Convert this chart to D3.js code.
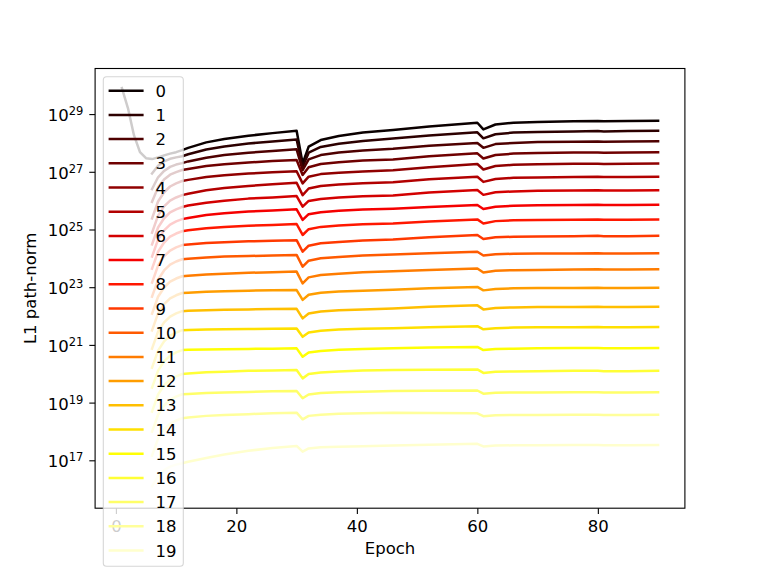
<!DOCTYPE html>
<html>
<head>
<meta charset="utf-8">
<script src="https://cdn.jsdelivr.net/npm/d3@7"></script>
<style>
  body { margin: 0; background: #fff; }
  svg { display: block; }
  text { font-family: "DejaVu Sans", sans-serif; fill: #000; }
</style>
</head>
<body>
<svg id="chart" width="761" height="571"></svg>
<script>
// ---------------- DATA ----------------
const epochs = [1,2,3,4,5,6,7,8,9,10,11,12,15,18,22,26,30,31,32,34,37,41,46,52,60,61,63,66,70,76,80,81,85,90];
const seriesNames = ["0","1","2","3","4","5","6","7","8","9","10","11","12","13","14","15","16","17","18","19"];
const xTicks = [0, 20, 40, 60, 80];
const yTickExponents = [17, 19, 21, 23, 25, 27, 29];
const xLabel = "Epoch";
const yLabel = "L1 path-norm";

// log10 of the L1 path-norm, one value per entry of `epochs` (null = not recorded)
const s0  = [29.90,29.21,28.27,27.68,27.47, 27.44,27.50,27.57,27.63,27.68,27.75, 27.83,28.02,28.14,28.25,28.34,28.42, 27.29,27.87,28.10,28.24,28.36,28.45,28.57,28.70, 28.47,28.64,28.70,28.73,28.75,28.76,28.75,28.76,28.77];
const s1  = [null,null,null,null,null, 26.94,27.21,27.36,27.45,27.50,27.54, 27.61,27.77,27.88,27.98,28.05,28.12, 27.17,27.66,27.86,27.97,28.07,28.15,28.26,28.37, 28.16,28.30,28.36,28.38,28.40,28.41,28.40,28.41,28.42];
const s2  = [null,null,null,null,null, 26.40,26.81,27.03,27.17,27.25,27.30, 27.36,27.49,27.58,27.66,27.72,27.78, 27.06,27.43,27.58,27.67,27.74,27.80,27.90,28.00, 27.83,27.96,28.00,28.03,28.04,28.05,28.04,28.05,28.06];
const s3  = [null,null,null,null,null, 25.96,26.46,26.73,26.90,26.99,27.06, 27.10,27.20,27.26,27.32,27.37,27.41, 26.89,27.16,27.27,27.33,27.39,27.43,27.54,27.64, 27.46,27.58,27.63,27.65,27.67,27.67,27.66,27.67,27.68];
const s4  = [null,null,null,null,null, 25.38,25.97,26.29,26.49,26.60,26.68, 26.72,26.82,26.88,26.94,26.98,27.02, 26.60,26.83,26.92,26.97,27.01,27.05,27.16,27.27, 27.08,27.20,27.24,27.26,27.28,27.28,27.27,27.28,27.29];
const s5  = [null,null,null,null,null, 24.89,25.48,25.80,26.00,26.11,26.19, 26.24,26.36,26.44,26.51,26.57,26.62, 26.19,26.42,26.51,26.56,26.60,26.64,26.74,26.83, 26.65,26.75,26.79,26.80,26.82,26.83,26.82,26.82,26.83];
const s6  = [null,null,null,null,null, 24.48,25.07,25.39,25.59,25.70,25.78, 25.83,25.93,26.00,26.07,26.11,26.16, 25.79,25.99,26.06,26.11,26.15,26.18,26.28,26.37, 26.20,26.29,26.32,26.34,26.35,26.36,26.35,26.35,26.36];
const s7  = [null,null,null,null,null, 24.06,24.65,24.97,25.17,25.28,25.36, 25.40,25.50,25.56,25.62,25.66,25.70, 25.33,25.53,25.60,25.65,25.69,25.72,25.78,25.85, 25.71,25.79,25.82,25.84,25.85,25.86,25.85,25.85,25.86];
const s8  = [null,null,null,null,null, 23.64,24.23,24.55,24.75,24.86,24.94, 24.97,25.04,25.09,25.13,25.16,25.19, 24.81,25.01,25.09,25.14,25.18,25.21,25.28,25.35, 25.21,25.29,25.32,25.33,25.34,25.35,25.34,25.34,25.35];
const s9  = [null,null,null,null,null, 23.16,23.75,24.07,24.27,24.38,24.46, 24.48,24.53,24.56,24.59,24.61,24.63, 24.23,24.44,24.52,24.57,24.62,24.65,24.73,24.81, 24.67,24.73,24.75,24.76,24.77,24.78,24.77,24.77,24.78];
const s10 = [null,null,null,null,null, 22.67,23.26,23.58,23.78,23.89,23.97, 23.99,24.03,24.06,24.08,24.10,24.12, 23.71,23.92,24.00,24.05,24.10,24.13,24.18,24.23, 24.10,24.14,24.16,24.17,24.17,24.18,24.17,24.17,24.18];
const s11 = [null,null,null,null,null, 22.08,22.67,22.99,23.19,23.30,23.38, 23.40,23.44,23.47,23.50,23.52,23.54, 23.13,23.34,23.42,23.47,23.52,23.55,23.60,23.65, 23.51,23.57,23.59,23.60,23.61,23.62,23.61,23.61,23.62];
const s12 = [null,null,null,null,null, 21.50,22.09,22.41,22.61,22.72,22.80, 22.81,22.84,22.86,22.88,22.89,22.90, 22.56,22.74,22.81,22.85,22.88,22.91,22.96,23.01, 22.89,22.94,22.96,22.97,22.97,22.98,22.97,22.97,22.98];
const s13 = [null,null,null,null,null, 20.87,21.46,21.78,21.98,22.09,22.17, 22.18,22.20,22.22,22.23,22.24,22.25, 21.92,22.09,22.16,22.20,22.23,22.26,22.32,22.37, 22.23,22.28,22.30,22.31,22.31,22.32,22.31,22.31,22.32];
const s14 = [null,null,null,null,null, 20.21,20.80,21.12,21.32,21.43,21.51, 21.52,21.53,21.54,21.55,21.56,21.57, 21.28,21.43,21.49,21.53,21.56,21.58,21.61,21.65, 21.54,21.58,21.60,21.61,21.61,21.62,21.61,21.61,21.62];
const s15 = [null,null,null,null,null, 19.52,20.11,20.43,20.63,20.74,20.82, 20.83,20.84,20.85,20.86,20.87,20.88, 20.59,20.74,20.79,20.83,20.86,20.88,20.91,20.93, 20.82,20.86,20.87,20.88,20.89,20.89,20.88,20.88,20.89];
const s16 = [null,null,null,null,null, 18.69,19.28,19.60,19.80,19.91,19.99, 20.01,20.05,20.07,20.10,20.11,20.13, 19.84,19.99,20.04,20.08,20.11,20.13,20.14,20.15, 20.03,20.07,20.08,20.09,20.10,20.10,20.09,20.09,20.10];
const s17 = [null,null,null,null,null, 17.99,18.58,18.90,19.10,19.21,19.29, 19.30,19.33,19.35,19.37,19.39,19.40, 19.15,19.28,19.33,19.36,19.38,19.40,19.41,19.42, 19.31,19.34,19.35,19.35,19.36,19.36,19.35,19.35,19.36];
const s18 = [null,null,null,null,null, 17.16,17.75,18.07,18.27,18.38,18.46, 18.48,18.54,18.57,18.60,18.63,18.65, 18.42,18.54,18.58,18.61,18.63,18.65,18.64,18.63, 18.53,18.56,18.57,18.57,18.58,18.58,18.57,18.57,18.58];
const s19 = [null,null,null,null,null, 16.10,16.46,16.66,16.78,16.85,16.90, 16.95,17.08,17.20,17.33,17.43,17.50, 17.30,17.41,17.45,17.47,17.49,17.51,17.54,17.57, 17.48,17.51,17.52,17.52,17.53,17.53,17.52,17.52,17.53];
const seriesLog10 = [s0,s1,s2,s3,s4,s5,s6,s7,s8,s9,s10,s11,s12,s13,s14,s15,s16,s17,s18,s19];

// ---------------- STYLE / LAYOUT ----------------
const colors = ["#0b0000","#2c0000","#4e0000","#6f0000","#900000","#b20000","#d30000","#f50000",
  "#ff1700","#ff3900","#ff5a00","#ff7c00","#ff9d00","#ffbf00","#ffe000","#ffff04","#ffff36","#ffff68","#ffff9b","#ffffcd"];
const plot = { left: 95.1, right: 684.9, top: 68.5, bottom: 508.2 };
const fs = 16.5;

const svg = d3.select("#chart");

const x = d3.scaleLinear().domain([-3.45, 94.45]).range([plot.left, plot.right]);
const y = d3.scaleLog().domain([Math.pow(10, 15.34), Math.pow(10, 30.58)]).range([plot.bottom, plot.top]);

svg.append("defs").append("clipPath").attr("id", "clip")
  .append("rect").attr("x", plot.left).attr("y", plot.top)
  .attr("width", plot.right - plot.left).attr("height", plot.bottom - plot.top);

// lines
const line = d3.line()
  .defined(d => d.v !== null)
  .x(d => x(d.e))
  .y(d => y(Math.pow(10, d.v)));

const gLines = svg.append("g").attr("clip-path", "url(#clip)");
seriesLog10.forEach((vals, i) => {
  const pts = epochs.map((e, j) => ({ e: e, v: vals[j] }));
  gLines.append("path")
    .datum(pts)
    .attr("d", line)
    .attr("fill", "none")
    .attr("stroke", colors[i])
    .attr("stroke-width", 2.5)
    .attr("stroke-linejoin", "round")
    .attr("stroke-linecap", "square");
});

// frame
svg.append("rect")
  .attr("x", plot.left).attr("y", plot.top)
  .attr("width", plot.right - plot.left).attr("height", plot.bottom - plot.top)
  .attr("fill", "none").attr("stroke", "#000").attr("stroke-width", 1.1);

// x axis
const xAxis = svg.append("g")
  .attr("transform", `translate(0,${plot.bottom})`)
  .call(d3.axisBottom(x).tickValues(xTicks).tickSize(5.8).tickPadding(4.9).tickFormat(d3.format("d")));
xAxis.select(".domain").remove();
xAxis.selectAll(".tick line").attr("stroke", "#000").attr("stroke-width", 1.1);
xAxis.selectAll(".tick text")
  .attr("font-family", "DejaVu Sans").attr("font-size", fs)
  .attr("y", 24).attr("dy", null).attr("fill", "#000");

// y axis
const yAxis = svg.append("g")
  .attr("transform", `translate(${plot.left},0)`)
  .call(d3.axisLeft(y).tickValues(yTickExponents.map(e => Math.pow(10, e))).tickSize(5.8).tickFormat(""));
yAxis.select(".domain").remove();
yAxis.selectAll(".tick line").attr("stroke", "#000").attr("stroke-width", 1.1);
yAxis.selectAll(".tick").each(function(d, i) {
  const t = d3.select(this).append("text")
    .attr("x", -11.8).attr("y", 6.4)
    .attr("text-anchor", "end")
    .attr("font-family", "DejaVu Sans")
    .attr("fill", "#000");
  t.append("tspan").attr("font-size", fs).text("10");
  t.append("tspan").attr("font-size", 11.5).attr("dy", -5.8).text(String(yTickExponents[i]));
});

// axis labels
svg.append("text")
  .attr("x", (plot.left + plot.right) / 2).attr("y", 553.5)
  .attr("text-anchor", "middle").attr("font-size", fs)
  .text(xLabel);
svg.append("text")
  .attr("transform", `translate(35.5,${(plot.top + plot.bottom) / 2}) rotate(-90)`)
  .attr("text-anchor", "middle").attr("font-size", fs)
  .text(yLabel);

// legend
const leg = svg.append("g");
leg.append("rect")
  .attr("x", 103.3).attr("y", 76.7).attr("width", 80).attr("height", 489.5)
  .attr("rx", 3.3).attr("ry", 3.3)
  .attr("fill", "#fff").attr("fill-opacity", 0.8)
  .attr("stroke", "#cccccc").attr("stroke-opacity", 0.8).attr("stroke-width", 1.1);
seriesNames.forEach((name, i) => {
  const cy = 90.7 + i * 24.2;
  leg.append("line")
    .attr("x1", 108.6).attr("x2", 143.6).attr("y1", cy).attr("y2", cy)
    .attr("stroke", colors[i]).attr("stroke-width", 2.5);
  leg.append("text")
    .attr("x", 155.5).attr("y", cy + 6)
    .attr("font-size", fs)
    .text(name);
});
</script>
</body>
</html>
